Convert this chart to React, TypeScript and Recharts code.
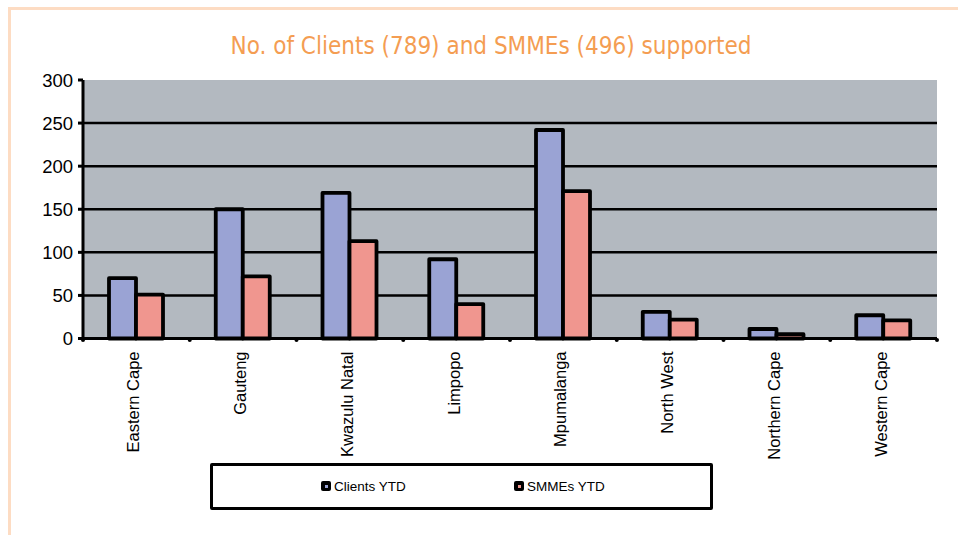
import React from "react";
import { BarChart, Bar, XAxis, YAxis, CartesianGrid } from "recharts";

const categories = [
  "Eastern Cape",
  "Gauteng",
  "Kwazulu Natal",
  "Limpopo",
  "Mpumalanga",
  "North West",
  "Northern Cape",
  "Western Cape",
];
const clientsYTD = [70, 150, 169, 92, 242, 31, 11, 27];
const smmesYTD = [51, 72, 113, 40, 171, 22, 5, 21];
const yTicks = [0, 50, 100, 150, 200, 250, 300];
const gridValues = [50, 100, 150, 200, 250];
const seriesNames = ["Clients YTD", "SMMEs YTD"];
const titleText = "No. of Clients (789) and SMMEs (496) supported";

const data = categories.map((c, i) => ({
  name: c,
  clients: clientsYTD[i],
  smmes: smmesYTD[i],
}));

const CLIENT_COLOR = "#9aa3d4";
const SMME_COLOR = "#f0968f";
const FONT = "'Liberation Sans', Arial, sans-serif";

const XTick = (props: any) => {
  const { x, y, payload, index } = props;
  const half = payload && payload.offset ? payload.offset : 53.4;
  return (
    <g>
      <circle cx={x - half} cy={y + 1.5} r={2} fill="#000" />
      {index === categories.length - 1 && (
        <circle cx={x + half} cy={y + 1.5} r={2} fill="#000" />
      )}
      <text
        transform={`translate(${x + 3},${y + 13}) rotate(-90)`}
        textAnchor="end"
        fontSize={16.5}
        fontFamily={FONT}
        fill="#000"
      >
        {payload.value}
      </text>
    </g>
  );
};

const LegendMarker = ({ color }: { color: string }) => (
  <span
    style={{
      display: "inline-block",
      width: 10,
      height: 10,
      background: "#000",
      borderRadius: 2,
      position: "relative",
      marginRight: 3,
      verticalAlign: "middle",
    }}
  >
    <span
      style={{
        position: "absolute",
        left: 3.5,
        top: 3.5,
        width: 3,
        height: 3,
        background: color,
      }}
    />
  </span>
);

export default function App() {
  return (
    <div
      style={{
        position: "absolute",
        left: 0,
        top: 0,
        width: 958,
        height: 535,
        background: "#fff",
        overflow: "hidden",
      }}
    >
      <div
        style={{
          position: "absolute",
          left: 8,
          top: 7,
          width: 1000,
          height: 600,
          borderTop: "3px solid #fddcc3",
          borderLeft: "3px solid #fddcc3",
          boxSizing: "border-box",
        }}
      />
      <div
        style={{
          position: "absolute",
          left: 0,
          width: 982,
          top: 32,
          textAlign: "center",
          fontFamily: "'DejaVu Sans', sans-serif",
          fontStretch: "condensed",
          fontSize: 24,
          color: "#f49d52",
          whiteSpace: "nowrap",
        }}
      >
        {titleText}
      </div>
      <div style={{ position: "absolute", left: 0, top: 0 }}>
        <BarChart
          width={958}
          height={535}
          data={data}
          margin={{ top: 80, right: 21, left: 0, bottom: 0 }}
          barGap={0}
          barSize={27}
        >
          <CartesianGrid
            fill="#b3b9c0"
            stroke="#000"
            strokeWidth={2.5}
            vertical={false}
            horizontalValues={gridValues}
          />
          <XAxis
            dataKey="name"
            interval={0}
            height={196.5}
            tickLine={false}
            tickSize={0}
            tickMargin={0}
            axisLine={{ stroke: "#000", strokeWidth: 3 }}
            tick={<XTick />}
          />
          <YAxis
            width={83}
            domain={[0, 300]}
            ticks={yTicks}
            interval={0}
            tickSize={5}
            tickMargin={5}
            axisLine={{ stroke: "#000", strokeWidth: 3 }}
            tickLine={{ stroke: "#000", strokeWidth: 3 }}
            tick={{ fill: "#000", fontSize: 18.5, fontFamily: FONT }}
          />
          <Bar
            dataKey="clients"
            name={seriesNames[0]}
            fill={CLIENT_COLOR}
            stroke="#000"
            strokeWidth={3.8}
            strokeLinejoin="round"
            isAnimationActive={false}
          />
          <Bar
            dataKey="smmes"
            name={seriesNames[1]}
            fill={SMME_COLOR}
            stroke="#000"
            strokeWidth={3.8}
            strokeLinejoin="round"
            isAnimationActive={false}
          />
        </BarChart>
      </div>
      <div
        style={{
          position: "absolute",
          left: 210,
          top: 463,
          width: 503,
          height: 47,
          border: "3.5px solid #000",
          borderRadius: 2,
          boxSizing: "border-box",
          fontFamily: FONT,
          fontSize: 13.5,
          color: "#000",
        }}
      >
        <div style={{ position: "absolute", left: 108, top: 12, whiteSpace: "nowrap" }}>
          <LegendMarker color={CLIENT_COLOR} />
          <span style={{ verticalAlign: "middle" }}>{seriesNames[0]}</span>
        </div>
        <div style={{ position: "absolute", left: 301, top: 12, whiteSpace: "nowrap" }}>
          <LegendMarker color={SMME_COLOR} />
          <span style={{ verticalAlign: "middle" }}>{seriesNames[1]}</span>
        </div>
      </div>
    </div>
  );
}
